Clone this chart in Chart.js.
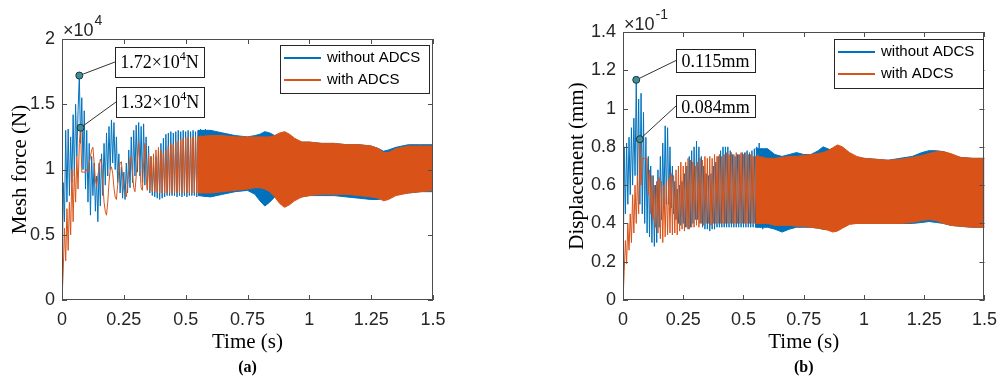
<!DOCTYPE html>
<html>
<head>
<meta charset="utf-8">
<script src="https://cdn.jsdelivr.net/npm/chart.js@4.4.0/dist/chart.umd.min.js"></script>
<style>
html, body { margin: 0; padding: 0; background: #fff; }
#wrap { position: relative; width: 1006px; height: 380px; overflow: hidden; }
#chartA { position: absolute; left: 0; top: 0; }
#chartB { position: absolute; left: 500px; top: 0; }
</style>
</head>
<body>
<div id="wrap">
  <canvas id="chartA" width="500" height="380"></canvas>
  <canvas id="chartB" width="506" height="380"></canvas>
</div>
<script>
// ---- data ----
const seriesNames = ['without ADCS', 'with ADCS'];

// transient part, time in s
const tTransient = [
  0, 0.005, 0.01, 0.015, 0.02, 0.025, 0.03, 0.035, 0.04, 0.045,
  0.05, 0.055, 0.06, 0.065, 0.07, 0.075, 0.08, 0.085, 0.09, 0.095,
  0.1, 0.105, 0.11, 0.115, 0.12, 0.125, 0.13, 0.135, 0.14, 0.145,
  0.15, 0.155, 0.16, 0.165, 0.17, 0.175, 0.18, 0.185, 0.19, 0.195,
  0.2, 0.205, 0.21, 0.215, 0.22, 0.225, 0.23, 0.235, 0.24, 0.245,
  0.25, 0.255, 0.26, 0.265, 0.27, 0.275, 0.28, 0.285, 0.29, 0.295,
  0.3, 0.305, 0.31, 0.315, 0.32, 0.325, 0.33, 0.335, 0.34, 0.345,
  0.35, 0.355, 0.36, 0.365, 0.37, 0.375, 0.38, 0.385, 0.39, 0.395,
  0.4, 0.405, 0.41, 0.415, 0.42, 0.425, 0.43, 0.435, 0.44, 0.445,
  0.45, 0.455, 0.46, 0.465, 0.47, 0.475, 0.48, 0.485, 0.49, 0.495,
  0.5, 0.505, 0.51, 0.515, 0.52, 0.525, 0.53, 0.535, 0.54, 0.545,
  0.55, 0.555, 0.56, 0.565, 0.57, 0.575, 0.58, 0.585, 0.59, 0.595,
  0.6
];

// (a) mesh force, x10^4 N
const forceWithout = [
  0, 0.9, 0.6, 1.3, 0.75, 1.31, 0.8, 1.25, 0.9, 1.42,
  0.95, 1.5, 1.1, 1.45, 1.72, 1.2, 1.55, 1.0, 1.45, 0.85,
  1.3, 0.75, 1.2, 0.65, 1.1, 0.8, 1.05, 0.68, 0.95, 0.6,
  1.05, 0.72, 1.12, 0.8, 1.2, 0.88, 1.28, 0.95, 1.33, 1.0,
  1.38, 1.05, 1.36, 1.0, 1.25, 0.9, 1.12, 0.82, 1.02, 0.78,
  0.98, 0.77, 1.05, 0.82, 1.15, 0.86, 1.25, 0.9, 1.3, 0.95,
  1.34, 0.98, 1.36, 0.95, 1.33, 0.9, 1.35, 0.88, 1.25, 0.85,
  1.18, 0.82, 1.1, 0.8, 1.05, 0.79, 1.1, 0.78, 1.15, 0.77,
  1.2, 0.78, 1.24, 0.79, 1.27, 0.8, 1.28, 0.8, 1.29, 0.8,
  1.28, 0.8, 1.29, 0.79, 1.3, 0.8, 1.29, 0.79, 1.3, 0.8,
  1.29, 0.79, 1.3, 0.8, 1.29, 0.8, 1.3, 0.8, 1.29, 0.79,
  1.3, 0.8, 1.31, 0.8, 1.3, 0.79, 1.31, 0.8, 1.3, 0.79,
  1.3
];
const forceWith = [
  0, 0.23, 0.55, 0.3, 0.7, 0.38, 0.75, 0.5, 1.0, 0.6,
  1.0, 0.75, 1.1, 0.85, 1.2, 1.32, 0.98, 0.98, 0.98, 0.98,
  1.0, 0.98, 1.05, 1.1, 1.15, 1.17, 1.05, 0.92, 0.87, 0.95,
  1.02, 1.08, 1.05, 0.9, 0.75, 0.68, 0.65, 0.75, 0.9, 1.0,
  1.02, 0.97, 0.86, 0.79, 0.77, 0.88, 1.0, 1.05, 1.06, 0.95,
  0.85, 0.8, 0.79, 0.88, 1.0, 1.08, 1.1, 0.98, 0.86, 0.83,
  0.95, 1.1, 1.21, 1.0, 0.86, 0.84, 1.05, 1.2, 0.95, 0.84,
  1.12, 0.84, 1.1, 0.83, 1.12, 0.83, 1.15, 0.82, 1.17, 0.82,
  1.15, 0.82, 1.12, 0.82, 1.15, 0.82, 1.18, 0.82, 1.2, 0.82,
  1.19, 0.82, 1.21, 0.82, 1.22, 0.82, 1.23, 0.82, 1.24, 0.82,
  1.24, 0.82, 1.25, 0.82, 1.24, 0.82, 1.25, 0.82, 1.25, 0.82,
  1.25, 0.82, 1.26, 0.82, 1.25, 0.82, 1.26, 0.82, 1.26, 0.82,
  1.26
];
// steady part drawn as the envelope of the dense oscillation
const tBandA = [0.55, 0.6, 0.65, 0.7, 0.75, 0.78, 0.8, 0.82, 0.84, 0.86, 0.88, 0.9, 0.92, 0.94, 0.97, 1.0, 1.05, 1.1, 1.15, 1.2, 1.25, 1.28, 1.3, 1.32, 1.35, 1.4, 1.45, 1.5];
const forceWithoutUp = [1.30, 1.30, 1.28, 1.26, 1.25, 1.26, 1.27, 1.29, 1.28, 1.26, 1.27, 1.28, 1.26, 1.23, 1.21, 1.21, 1.20, 1.20, 1.19, 1.19, 1.18, 1.16, 1.14, 1.15, 1.17, 1.19, 1.19, 1.19];
const forceWithoutLo = [0.80, 0.79, 0.81, 0.83, 0.84, 0.81, 0.76, 0.72, 0.75, 0.79, 0.80, 0.80, 0.79, 0.78, 0.79, 0.80, 0.80, 0.80, 0.79, 0.78, 0.77, 0.77, 0.78, 0.79, 0.81, 0.82, 0.83, 0.83];
const forceWithUp = [1.25, 1.26, 1.26, 1.25, 1.25, 1.25, 1.25, 1.25, 1.25, 1.26, 1.28, 1.29, 1.27, 1.24, 1.21, 1.21, 1.20, 1.20, 1.19, 1.19, 1.18, 1.16, 1.13, 1.13, 1.16, 1.18, 1.18, 1.18];
const forceWithLo = [0.82, 0.82, 0.83, 0.84, 0.85, 0.86, 0.86, 0.85, 0.83, 0.79, 0.74, 0.71, 0.73, 0.76, 0.79, 0.80, 0.81, 0.81, 0.81, 0.80, 0.79, 0.78, 0.76, 0.77, 0.80, 0.82, 0.83, 0.84];
const peakForceT = [0.07, 0.075];
const peakForceV = [1.72, 1.32];

// (b) displacement, x10^-1 mm
const dispWithout = [
  0, 0.8, 0.45, 0.82, 0.5, 0.85, 0.55, 0.9, 0.6, 0.95,
  0.65, 1.15, 0.6, 1.05, 0.5, 1.08, 0.45, 0.98, 0.4, 0.85,
  0.35, 0.75, 0.33, 0.7, 0.3, 0.65, 0.28, 0.6, 0.3, 0.68,
  0.38, 0.75, 0.42, 0.82, 0.48, 0.91, 0.5, 0.9, 0.5, 0.8,
  0.48, 0.7, 0.45, 0.62, 0.42, 0.58, 0.4, 0.6, 0.39, 0.62,
  0.4, 0.66, 0.38, 0.7, 0.37, 0.75, 0.38, 0.78, 0.4, 0.8,
  0.42, 0.83, 0.42, 0.8, 0.4, 0.75, 0.38, 0.7, 0.37, 0.66,
  0.37, 0.65, 0.36, 0.66, 0.37, 0.7, 0.37, 0.72, 0.38, 0.75,
  0.38, 0.78, 0.38, 0.8, 0.38, 0.8, 0.38, 0.8, 0.38, 0.78,
  0.38, 0.76, 0.38, 0.75, 0.38, 0.76, 0.38, 0.76, 0.38, 0.77,
  0.38, 0.77, 0.38, 0.78, 0.38, 0.77, 0.38, 0.78, 0.38, 0.79,
  0.38, 0.8, 0.38, 0.82, 0.38, 0.79, 0.37, 0.78, 0.38, 0.79,
  0.38
];
const dispWith = [
  0, 0.15, 0.31, 0.19, 0.4, 0.26, 0.45, 0.3, 0.55, 0.35,
  0.6, 0.4, 0.65, 0.45, 0.84, 0.6, 0.74, 0.74, 0.74, 0.74,
  0.74, 0.55, 0.68, 0.45, 0.65, 0.42, 0.6, 0.38, 0.62, 0.35,
  0.64, 0.32, 0.62, 0.3, 0.6, 0.33, 0.62, 0.34, 0.64, 0.35,
  0.66, 0.34, 0.65, 0.35, 0.68, 0.34, 0.7, 0.36, 0.72, 0.37,
  0.7, 0.36, 0.72, 0.38, 0.74, 0.37, 0.73, 0.38, 0.72, 0.38,
  0.7, 0.39, 0.72, 0.38, 0.74, 0.4, 0.73, 0.39, 0.75, 0.4,
  0.74, 0.4, 0.75, 0.39, 0.74, 0.4, 0.76, 0.4, 0.75, 0.4,
  0.76, 0.4, 0.75, 0.4, 0.76, 0.4, 0.77, 0.4, 0.76, 0.4,
  0.77, 0.4, 0.76, 0.4, 0.77, 0.4, 0.76, 0.4, 0.77, 0.4,
  0.76, 0.4, 0.77, 0.4, 0.76, 0.4, 0.76, 0.4, 0.75, 0.4,
  0.75, 0.4, 0.76, 0.4, 0.75, 0.4, 0.75, 0.4, 0.74, 0.4,
  0.74
];
const tBandB = [0.55, 0.6, 0.63, 0.66, 0.69, 0.72, 0.75, 0.78, 0.81, 0.83, 0.85, 0.87, 0.89, 0.91, 0.94, 0.97, 1.0, 1.05, 1.1, 1.15, 1.2, 1.24, 1.27, 1.3, 1.33, 1.36, 1.4, 1.45, 1.5];
const dispWithoutUp = [0.79, 0.79, 0.76, 0.75, 0.76, 0.77, 0.76, 0.76, 0.78, 0.80, 0.79, 0.78, 0.79, 0.79, 0.76, 0.745, 0.74, 0.735, 0.73, 0.74, 0.75, 0.77, 0.78, 0.78, 0.775, 0.76, 0.745, 0.74, 0.74];
const dispWithoutLo = [0.38, 0.38, 0.37, 0.355, 0.37, 0.38, 0.38, 0.38, 0.375, 0.37, 0.37, 0.37, 0.37, 0.38, 0.40, 0.40, 0.40, 0.40, 0.40, 0.40, 0.40, 0.405, 0.41, 0.405, 0.40, 0.39, 0.385, 0.38, 0.38];
const dispWithUp = [0.75, 0.74, 0.74, 0.745, 0.75, 0.75, 0.755, 0.76, 0.765, 0.77, 0.78, 0.795, 0.81, 0.80, 0.77, 0.75, 0.74, 0.735, 0.73, 0.735, 0.745, 0.755, 0.765, 0.775, 0.775, 0.765, 0.745, 0.74, 0.74];
const dispWithLo = [0.40, 0.40, 0.39, 0.39, 0.39, 0.385, 0.385, 0.38, 0.375, 0.37, 0.365, 0.355, 0.36, 0.375, 0.395, 0.40, 0.40, 0.40, 0.40, 0.40, 0.405, 0.415, 0.42, 0.415, 0.40, 0.39, 0.385, 0.38, 0.38];
const peakDispT = [0.055, 0.07];
const peakDispV = [1.15, 0.84];

const xTicks = [0, 0.25, 0.5, 0.75, 1, 1.25, 1.5];
const xTickLabels = ['0', '0.25', '0.5', '0.75', '1', '1.25', '1.5'];
const yTicksA = [0, 0.5, 1, 1.5, 2];
const yTickLabelsA = ['0', '0.5', '1', '1.5', '2'];
const yTicksB = [0, 0.2, 0.4, 0.6, 0.8, 1, 1.2, 1.4];
const yTickLabelsB = ['0', '0.2', '0.4', '0.6', '0.8', '1', '1.2', '1.4'];

// ---- styling ----
const BLUE = '#0072BD';
const ORANGE = '#D95319';
const AXIS = '#4d4d4d';
const TICKTXT = '#262626';
const SANS = '"Liberation Sans", Arial, sans-serif';
const SERIF = '"Liberation Serif", "Times New Roman", serif';

const toPts = (t, v) => t.map((x, i) => ({ x: x, y: v[i] }));

function lineSet(t, v, color, order) {
    return { data: toPts(t, v), borderColor: color, borderWidth: 1, pointRadius: 0, fill: false, tension: 0, order: order };
}

function bandSets(t, up, lo, color, order) {
    return [
        { data: toPts(t, up), borderColor: color, backgroundColor: color, borderWidth: 1, pointRadius: 0, fill: '+1', tension: 0, order: order },
        { data: toPts(t, lo), borderColor: color, borderWidth: 1, pointRadius: 0, fill: false, tension: 0, order: order }
    ];
}

function drawRich(ctx, parts, cx, baseline, size) {
    // parts: [text, isSuperscript]
    let w = 0;
    parts.forEach(p => {
        ctx.font = (p[1] ? Math.round(size * 0.65) : size) + 'px ' + SERIF;
        w += ctx.measureText(p[0]).width;
    });
    let x = cx - w / 2;
    parts.forEach(p => {
        ctx.font = (p[1] ? Math.round(size * 0.65) : size) + 'px ' + SERIF;
        ctx.fillText(p[0], x, p[1] ? baseline - size * 0.42 : baseline);
        x += ctx.measureText(p[0]).width;
    });
}

const decorPlugin = {
    id: 'decor',
    afterDatasetsDraw(chart, args, o) {
        const { ctx, chartArea: a, scales: { x, y } } = chart;
        ctx.save();
        // box and inward ticks
        ctx.strokeStyle = AXIS;
        ctx.lineWidth = 1;
        ctx.strokeRect(Math.round(a.left) + 0.5, Math.round(a.top) + 0.5, Math.round(a.width) - 1, Math.round(a.height) - 1);
        ctx.beginPath();
        x.ticks.forEach(t => {
            const px = Math.round(x.getPixelForValue(t.value)) + 0.5;
            ctx.moveTo(px, a.bottom); ctx.lineTo(px, a.bottom - 5);
            ctx.moveTo(px, a.top); ctx.lineTo(px, a.top + 5);
        });
        y.ticks.forEach(t => {
            const py = Math.round(y.getPixelForValue(t.value)) + 0.5;
            ctx.moveTo(a.left, py); ctx.lineTo(a.left + 5, py);
            ctx.moveTo(a.right, py); ctx.lineTo(a.right - 5, py);
        });
        ctx.stroke();
        ctx.restore();
    },
    afterDraw(chart, args, o) {
        const { ctx, chartArea: a, scales: { x, y } } = chart;
        ctx.save();

        // leader lines + value boxes
        o.boxes.forEach((b, i) => {
            const mx = x.getPixelForValue(o.peakT[i]);
            const my = y.getPixelForValue(o.peakV[i]);
            const ex = b.x, ey = b.y + b.h / 2;
            const d = Math.hypot(ex - mx, ey - my);
            ctx.strokeStyle = '#333';
            ctx.lineWidth = 1;
            ctx.beginPath();
            ctx.moveTo(mx + (ex - mx) / d * 4, my + (ey - my) / d * 4);
            ctx.lineTo(ex, ey);
            ctx.stroke();
            ctx.fillStyle = '#fff';
            ctx.fillRect(b.x, b.y, b.w, b.h);
            ctx.strokeStyle = '#222';
            ctx.strokeRect(b.x + 0.5, b.y + 0.5, b.w, b.h);
            ctx.fillStyle = '#000';
            ctx.textBaseline = 'alphabetic';
            ctx.textAlign = 'left';
            drawRich(ctx, b.parts, b.x + b.w / 2, b.y + b.base, 18);
        });

        // legend
        const L = o.legend;
        ctx.fillStyle = '#fff';
        ctx.fillRect(L.x, L.y, L.w, L.h);
        ctx.strokeStyle = '#262626';
        ctx.lineWidth = 1;
        ctx.strokeRect(L.x + 0.5, L.y + 0.5, L.w, L.h);
        [BLUE, ORANGE].forEach((c, i) => {
            const ly = L.y + 13 + i * 22;
            ctx.strokeStyle = c;
            ctx.lineWidth = 2;
            ctx.beginPath();
            ctx.moveTo(L.x + 4, ly);
            ctx.lineTo(L.x + 41, ly);
            ctx.stroke();
            ctx.fillStyle = '#000';
            ctx.font = '15px ' + SANS;
            ctx.textAlign = 'left';
            ctx.textBaseline = 'middle';
            ctx.fillText(seriesNames[i], L.x + 47, ly);
        });

        // exponent above y axis
        ctx.fillStyle = TICKTXT;
        ctx.textAlign = 'left';
        ctx.textBaseline = 'alphabetic';
        ctx.font = '18px ' + SANS;
        const ex0 = a.left + 1;
        ctx.fillText('\u00d710', ex0, o.expBase);
        const ew = ctx.measureText('\u00d710').width;
        ctx.font = '14px ' + SANS;
        ctx.fillText(o.exp, ex0 + ew + 1, o.expBase - 11);

        // axis titles
        ctx.fillStyle = '#000';
        ctx.font = '21px ' + SERIF;
        ctx.textAlign = 'center';
        ctx.textBaseline = 'middle';
        const cx = (a.left + a.right) / 2;
        ctx.fillText('Time (s)', cx, 342);
        ctx.save();
        ctx.translate(o.yTitleX, (a.top + a.bottom) / 2);
        ctx.rotate(-Math.PI / 2);
        ctx.fillText(o.yTitle, 0, 0);
        ctx.restore();

        // panel label
        ctx.font = 'bold 16px ' + SERIF;
        ctx.fillText(o.panel, cx, 368);
        ctx.restore();
    }
};

function makeChart(id, cfg) {
    const datasets = [
        { data: toPts(cfg.peakT, cfg.peakV), showLine: false, pointRadius: 3.5, pointBackgroundColor: '#3e8f9c',
          pointBorderColor: '#1d3236', pointBorderWidth: 1, borderColor: '#1d3236', order: 0 },
        lineSet(tTransient, cfg.withV, ORANGE, 1),
        ...bandSets(cfg.tBand, cfg.withUp, cfg.withLo, ORANGE, 1),
        lineSet(tTransient, cfg.withoutV, BLUE, 2),
        ...bandSets(cfg.tBand, cfg.withoutUp, cfg.withoutLo, BLUE, 2)
    ];
    return new Chart(document.getElementById(id), {
        type: 'line',
        data: { datasets: datasets },
        options: {
            responsive: false,
            animation: false,
            events: [],
            layout: { padding: { left: 0, top: cfg.top, right: cfg.right, bottom: 0 } },
            plugins: {
                legend: { display: false },
                tooltip: { enabled: false },
                decor: cfg.decor
            },
            scales: {
                x: {
                    type: 'linear', min: 0, max: 1.5,
                    grid: { display: false, drawTicks: false },
                    border: { display: false },
                    afterBuildTicks: s => { s.ticks = xTicks.map(v => ({ value: v })); },
                    afterFit: s => { s.height = 80; },
                    ticks: {
                        autoSkip: false, maxRotation: 0, padding: 9, color: TICKTXT,
                        font: { family: SANS, size: 18 },
                        callback: (v, i) => xTickLabels[i]
                    }
                },
                y: {
                    type: 'linear', min: cfg.yTicks[0], max: cfg.yTicks[cfg.yTicks.length - 1],
                    grid: { display: false, drawTicks: false },
                    border: { display: false },
                    afterBuildTicks: s => { s.ticks = cfg.yTicks.map(v => ({ value: v })); },
                    afterFit: s => { s.width = cfg.yWidth; },
                    ticks: {
                        autoSkip: false, padding: 7, color: TICKTXT,
                        font: { family: SANS, size: 18 },
                        callback: (v, i) => cfg.yLabels[i]
                    }
                }
            }
        },
        plugins: [decorPlugin]
    });
}

makeChart('chartA', {
    top: 39, right: 67, yWidth: 62,
    yTicks: yTicksA, yLabels: yTickLabelsA,
    peakT: peakForceT, peakV: peakForceV,
    withoutV: forceWithout, withV: forceWith,
    tBand: tBandA,
    withoutUp: forceWithoutUp, withoutLo: forceWithoutLo,
    withUp: forceWithUp, withLo: forceWithLo,
    decor: {
        peakT: peakForceT, peakV: peakForceV,
        boxes: [
            { x: 115, y: 47, w: 89, h: 30, base: 21, parts: [['1.72\u00d710', false], ['4', true], ['N', false]] },
            { x: 116, y: 87, w: 88, h: 30, base: 21, parts: [['1.32\u00d710', false], ['4', true], ['N', false]] }
        ],
        legend: { x: 280, y: 45, w: 149, h: 48 },
        exp: '4', expBase: 36,
        yTitle: 'Mesh force (N)', yTitleX: 20,
        panel: '(a)'
    }
});

makeChart('chartB', {
    top: 32, right: 14, yWidth: 123,
    yTicks: yTicksB, yLabels: yTickLabelsB,
    peakT: peakDispT, peakV: peakDispV,
    withoutV: dispWithout, withV: dispWith,
    tBand: tBandB,
    withoutUp: dispWithoutUp, withoutLo: dispWithoutLo,
    withUp: dispWithUp, withLo: dispWithLo,
    decor: {
        peakT: peakDispT, peakV: peakDispV,
        boxes: [
            { x: 176, y: 49, w: 79, h: 23, base: 18, parts: [['0.115mm', false]] },
            { x: 176, y: 95, w: 79, h: 22, base: 18, parts: [['0.084mm', false]] }
        ],
        legend: { x: 334, y: 39, w: 149, h: 49 },
        exp: '-1', expBase: 30,
        yTitle: 'Displacement (mm)', yTitleX: 77,
        panel: '(b)'
    }
});
</script>
</body>
</html>
